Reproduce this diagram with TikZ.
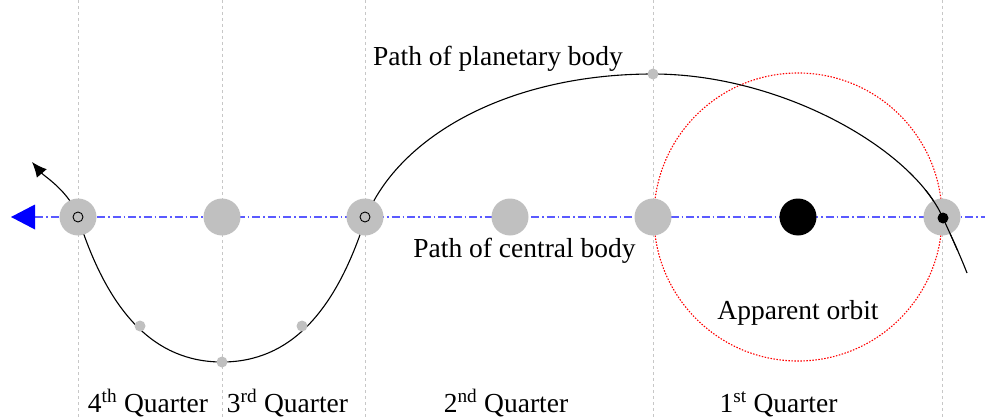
\documentclass[tikz,border=0pt]{standalone}
\usepackage{fontspec}
\setmainfont{Liberation Serif}
\usetikzlibrary{arrows.meta}
\definecolor{silver}{RGB}{192,192,192}
\definecolor{trackblue}{RGB}{90,90,255}

\begin{document}
\begin{tikzpicture}[x=1pt, y=-1pt, font=\fontsize{27.5}{33}\selectfont,
  body/.style={circle, fill=silver, minimum size=37pt, inner sep=0pt},
  sunbody/.style={circle, fill=black, minimum size=37pt, inner sep=0pt},
  mark dot/.style={circle, fill=silver, minimum size=11pt, inner sep=0pt},
  ring/.style={circle, draw, line width=0.9pt, minimum size=10pt, inner sep=0pt},
  guide/.style={draw=black!22, line width=0.9pt, dash pattern=on 3pt off 3pt},
  central track/.style={color=trackblue, line width=1.1pt, dash pattern=on 8pt off 3pt on 1.5pt off 3pt},
  planet/.style={line width=1.1pt},
  orbit/.style={draw=red, line width=1.1pt, dash pattern=on 1.5pt off 1.5pt}]
\useasboundingbox (0,0) rectangle (985,420);
% quarter lines
\foreach \x in {78,222,365,653,942}
  \draw[guide] (\x,0) -- (\x,420);
% apparent orbit
\coordinate (c) at (798,217);
\draw[orbit] (c) circle[radius=144pt];
% path of central body
\coordinate (trackL) at (35,217);
\coordinate (trackR) at (985,217);
\draw[central track] (trackL) -- (trackR);
\fill[blue] (11,217) -- (35,204.5) -- (35,229.5) -- cycle;
% path of planetary body
\draw[planet, -{Latex[length=15pt,width=13pt]}] (967,273)
  .. controls (960,255) and (952,238) .. (943,218)
  .. controls (912,148) and (780,74) .. (653,74)
  .. controls (510,74) and (400,135) .. (366,217)
  .. controls (336,312) and (290,362) .. (222,362)
  .. controls (154,362) and (108,312) .. (78,217)
  .. controls (70,192) and (44,176) .. (32,162);
% bodies
\node[body] (p4) at (78,217) {};
\node[body] (p3) at (222,217) {};
\node[body] (p2) at (365,217) {};
\node[body] (m2) at (510,217) {};
\node[body] (p1) at (653,217) {};
\node[body] (p0) at (942,217) {};
\node[sunbody] (sun) at (c) {};
\begin{scope}
  \clip (915,190) rectangle (975,250);
  \draw[planet] (967,273)
    .. controls (960,255) and (952,238) .. (943,218)
    .. controls (912,148) and (780,74) .. (653,74);
\end{scope}
\node[ring] (r4) at (p4) {};
\node[ring] (r2) at (p2) {};
\node[circle, fill=black, minimum size=11pt, inner sep=0pt] (now) at (943,218) {};
\node[mark dot] (d1) at (140,326) {};
\node[mark dot] (d2) at (222,362) {};
\node[mark dot] (d3) at (302,326) {};
\node[mark dot] (d4) at (653,74) {};
% labels
\node[anchor=base] (lplanet) at (498,66) {Path of planetary body};
\node[anchor=base] (lcentral) at (524.5,257) {Path of central body};
\node[anchor=base] (lorbit) at (798,319) {Apparent orbit};
\node[anchor=base] (q4) at (148,412) {4\textsuperscript{th} Quarter};
\node[anchor=base] (q3) at (287.5,412) {3\textsuperscript{rd} Quarter};
\node[anchor=base] (q2) at (506,412) {2\textsuperscript{nd} Quarter};
\node[anchor=base] (q1) at (778.5,412) {1\textsuperscript{st} Quarter};
\end{tikzpicture}
\end{document}
